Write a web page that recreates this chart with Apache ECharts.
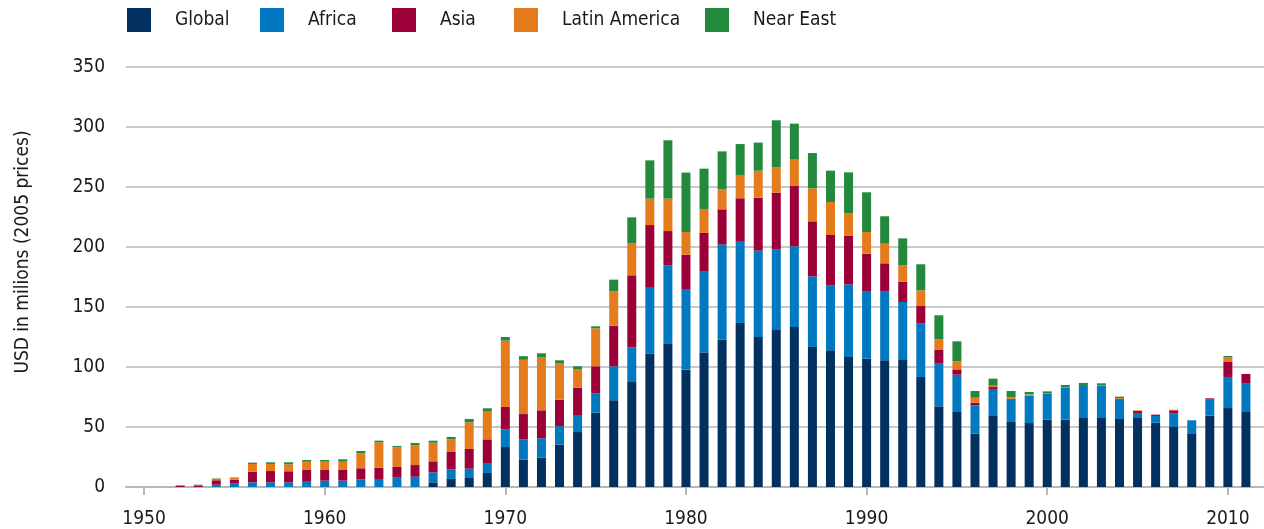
<!DOCTYPE html>
<html>
<head>
<meta charset="utf-8">
<script src="https://cdn.jsdelivr.net/npm/echarts@6/dist/echarts.min.js"></script>
<style>
  html, body { margin: 0; padding: 0; background: #fff; }
  #chart { width: 1264px; height: 529px; }
</style>
</head>
<body>
<div id="chart"></div>
<script>
// years 1949 .. 2012 (first and last are empty padding slots)
const years = [1949,
  1950, 1951, 1952, 1953, 1954, 1955, 1956, 1957, 1958, 1959,
  1960, 1961, 1962, 1963, 1964, 1965, 1966, 1967, 1968, 1969,
  1970, 1971, 1972, 1973, 1974, 1975, 1976, 1977, 1978, 1979,
  1980, 1981, 1982, 1983, 1984, 1985, 1986, 1987, 1988, 1989,
  1990, 1991, 1992, 1993, 1994, 1995, 1996, 1997, 1998, 1999,
  2000, 2001, 2002, 2003, 2004, 2005, 2006, 2007, 2008, 2009,
  2010, 2011, 2012];

const globalData = [0,
  0, 0, 0, 0, 0, 0, 0, 0, 0, 0,
  0, 0, 0, 0, 0, 0, 3.9, 6.7, 7.5, 11.7,
  33.3, 22.8, 24.4, 35.3, 45.8, 61.9, 72.2, 87.5, 111, 119.2,
  97.8, 112, 123, 136.7, 125, 130.8, 133.3, 116.7, 113.9, 108.3,
  106.9, 105.6, 106.4, 91.7, 67.2, 62.5, 44.4, 59.2, 54.2, 53.3,
  56.1, 56.1, 57.5, 57.5, 56.7, 57.5, 53.6, 50, 44.2, 59.4,
  65.8, 62.5, null];

const africaData = [0,
  0, 0, 0, 0, 1.9, 2.8, 3.9, 3.9, 3.9, 5.0,
  5.3, 5.3, 6.4, 6.7, 7.8, 8.6, 8.3, 8.0, 7.8, 7.7,
  14.7, 16.9, 16.2, 15.5, 14.2, 16.1, 28.4, 28.9, 55.0, 65.5,
  67.2, 67.4, 79.2, 67.7, 72.0, 67.0, 67.3, 58.9, 53.9, 60.6,
  56.4, 57.7, 47.8, 44.4, 35.6, 31.1, 23.6, 22.5, 19.1, 22.8,
  21.4, 26.4, 26.7, 26.7, 16.6, 4.2, 5.6, 11.4, 11.4, 13.4,
  25.9, 23.6, null];

const asiaData = [0,
  0, 0, 1.1, 1.1, 3.7, 3.3, 8.9, 9.4, 9.2, 9.2,
  8.9, 8.9, 9.2, 9.4, 8.9, 9.7, 9.2, 14.5, 16.4, 20.3,
  18.7, 21.1, 23.3, 22.0, 22.8, 22.6, 33.8, 60.0, 52.3, 28.6,
  28.6, 32.3, 29.2, 36.2, 44.1, 47.5, 50.2, 45.8, 42.2, 40.3,
  31.1, 23.1, 16.9, 14.7, 11.4, 4.4, 2.3, 1.6, 0, 0,
  0, 0, 0, 0, 0, 1.6, 1.1, 2.5, 0, 1.1,
  12.5, 8.1, null];

const latinData = [0,
  0, 0, 0.6, 0, 1.3, 1.9, 6.4, 5.9, 5.8, 6.9,
  6.9, 6.9, 12.5, 21.1, 16.4, 16.4, 15.5, 10.5, 22.2, 23.1,
  55.3, 45.2, 44.4, 30.5, 15.5, 31.6, 28.6, 26.9, 22.0, 27.0,
  18.9, 20.0, 16.6, 19.4, 22.5, 21.1, 22.0, 27.5, 27.5, 19.1,
  18.1, 16.4, 13.6, 13.1, 8.9, 6.7, 4.1, 1.1, 1.4, 1.1,
  0.8, 0.8, 0, 0.8, 0.8, 0.6, 0, 0.5, 0, 0,
  4.1, 0, null];

const nearEastData = [0,
  0, 0, 0, 0.8, 0.3, 0, 1.1, 1.4, 1.7, 1.4,
  1.4, 2.0, 1.9, 1.4, 1.1, 2.0, 1.7, 2.0, 2.8, 2.8,
  3.0, 3.0, 3.1, 2.3, 2.3, 1.7, 9.8, 21.4, 31.9, 48.6,
  49.5, 33.6, 31.7, 25.8, 23.4, 39.2, 30.0, 29.4, 26.1, 33.9,
  33.1, 22.8, 22.5, 21.7, 20.0, 16.7, 5.6, 5.9, 5.3, 2.0,
  1.4, 1.7, 2.5, 1.4, 1.2, 0, 0, 0, 0, 0,
  0.9, 0, null];

const seriesNames = ["Global", "Africa", "Asia", "Latin America", "Near East"];
const seriesData = [globalData, africaData, asiaData, latinData, nearEastData];
const colors = ["#02305f", "#0079c1", "#9b0039", "#e47c1e", "#238a3d"];
// left edge of each legend swatch
const legendLeft = [127, 260, 392, 514, 705];

const fontFamily = "'DejaVu Sans Condensed', 'Liberation Sans Narrow', Roboto, sans-serif";
const fontSize = 19;
const textColor = "#1a1a1a";
const gridGray = "#b7b7b7";

let series = [];
for (let i = 0; i < seriesNames.length; i++) {
  series.push({
    name: seriesNames[i],
    type: "bar",
    stack: "total",
    barWidth: 9,
    data: seriesData[i],
    itemStyle: { color: colors[i] }
  });
}

// one legend per item so every swatch sits where the original puts it
let legends = [];
for (let i = 0; i < seriesNames.length; i++) {
  legends.push({
    left: legendLeft[i],
    top: 8,
    padding: 0,
    icon: "rect",
    itemWidth: 24,
    itemHeight: 24,
    selectedMode: false,
    textStyle: {
      fontSize: fontSize,
      color: textColor,
      fontFamily: fontFamily,
      padding: [2, 0, 0, 19]
    },
    data: [seriesNames[i]]
  });
}

let myChart = echarts.init(document.getElementById("chart"));
let option = {
  animation: false,
  color: colors,
  textStyle: { fontFamily: fontFamily },
  legend: legends,
  grid: {
    left: 126,
    right: -6,
    top: 67,
    bottom: 42
  },
  xAxis: {
    type: "category",
    boundaryGap: false,
    data: years,
    axisLine: { lineStyle: { color: gridGray, width: 2 } },
    axisTick: {
      length: 8,
      lineStyle: { color: gridGray, width: 2 },
      interval: (idx, val) => Number(val) % 10 === 0
    },
    axisLabel: {
      fontSize: fontSize,
      color: textColor,
      margin: 23,
      interval: (idx, val) => Number(val) % 10 === 0
    },
    splitLine: { show: false }
  },
  yAxis: {
    type: "value",
    min: 0,
    max: 350,
    interval: 50,
    name: "USD in milions (2005 prices)",
    nameLocation: "middle",
    nameGap: 93,
    nameTextStyle: {
      fontSize: fontSize,
      color: textColor,
      padding: [0, 0, 0, 50]
    },
    axisLine: { show: false },
    axisTick: { show: false },
    axisLabel: {
      fontSize: fontSize,
      color: textColor,
      margin: 21
    },
    splitLine: { lineStyle: { color: gridGray, width: 1.5 } }
  },
  series: series
};
myChart.setOption(option);
window.addEventListener("resize", () => {
  myChart.resize();
});
</script>
</body>
</html>
